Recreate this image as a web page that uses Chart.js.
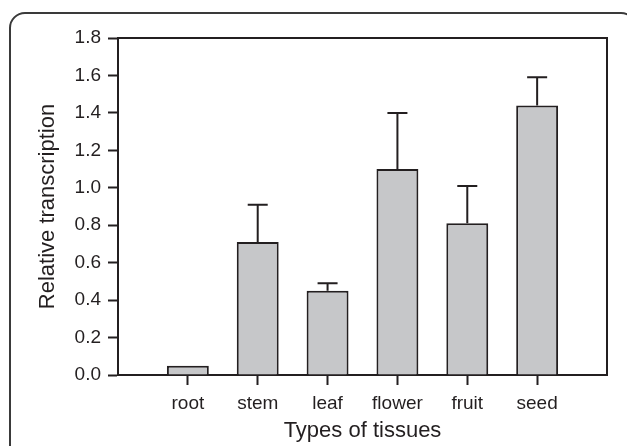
<!DOCTYPE html>
<html>
<head>
<meta charset="utf-8">
<script src="https://cdn.jsdelivr.net/npm/chart.js@4"></script>
<style>
  body { margin: 0; background: #fff; overflow: hidden; }
  #frame { position: absolute; left: 9px; top: 12px; width: 628px; height: 500px;
           border: 2px solid #3a3a3a; border-radius: 16px; box-sizing: border-box; }
  #tissue_chart { position: absolute; left: 0; top: 0; }
</style>
</head>
<body>
<div id="frame"></div>
<canvas id="tissue_chart" width="627" height="446"></canvas>
<script>
const tissues = ['root', 'stem', 'leaf', 'flower', 'fruit', 'seed']
const transcription = [0.05, 0.71, 0.45, 1.10, 0.81, 1.44]
const errors = [0, 0.20, 0.04, 0.30, 0.20, 0.15]
const y_min = 0
const y_max = 1.8
const y_step = 0.2

const ink = '#231f20'
const font_family = 'Liberation Sans, Arial, sans-serif'

// blank slot at each end so the bars sit one category in from the frame
const x_labels = [''].concat(tissues, [''])
const x_values = [null].concat(transcription, [null])
const x_errors = [null].concat(errors, [null])

// upper error bars + top/right frame lines
const errorbar_plugin = {
    id: 'errorbars',
    afterDatasetsDraw(chart) {
        const ctx = chart.ctx
        const y = chart.scales.y
        const meta = chart.getDatasetMeta(0)
        ctx.save()
        ctx.strokeStyle = ink
        ctx.lineWidth = 2
        meta.data.forEach((bar, i) => {
            const err = x_errors[i]
            if (!err) return
            const top = y.getPixelForValue(x_values[i] + err)
            ctx.beginPath()
            ctx.moveTo(bar.x, bar.y)
            ctx.lineTo(bar.x, top)
            ctx.moveTo(bar.x - 10, top)
            ctx.lineTo(bar.x + 10, top)
            ctx.stroke()
        })
        const a = chart.chartArea
        ctx.beginPath()
        ctx.moveTo(a.left, a.top)
        ctx.lineTo(a.right, a.top)
        ctx.lineTo(a.right, a.bottom)
        ctx.stroke()
        ctx.restore()
    }
}

let tissue_document = document.getElementById('tissue_chart').getContext('2d')

let tissue_chart = new Chart(tissue_document, {
    type: 'bar',
    data: {
        labels: x_labels,
        datasets: [{
            label: 'Relative transcription',
            data: x_values,
            backgroundColor: '#c6c7c9',
            borderColor: ink,
            borderWidth: 2,
            categoryPercentage: 1,
            barPercentage: 0.6
        }]
    },
    options: {
        responsive: false,
        animation: false,
        devicePixelRatio: 1,
        layout: {padding: {left: 24, top: 38, right: 20, bottom: 0}},
        plugins: {legend: {display: false}, tooltip: {enabled: false}},
        scales: {
            x: {
                offset: false,
                afterFit: function (scale) { scale.height = 71 },
                grid: {
                    display: true,
                    offset: false,
                    drawOnChartArea: false,
                    drawTicks: true,
                    tickLength: 10,
                    tickWidth: 2,
                    tickColor: function (c) {
                        return (c.index === 0 || c.index === x_labels.length - 1) ? 'rgba(0,0,0,0)' : ink
                    }
                },
                border: {display: true, color: ink, width: 2},
                ticks: {
                    color: ink, padding: 7, maxRotation: 0, autoSkip: false,
                    font: {family: font_family, size: 19}
                },
                title: {
                    display: true, text: 'Types of tissues', color: ink,
                    padding: {top: 2, bottom: 2},
                    font: {family: font_family, size: 22}
                }
            },
            y: {
                min: y_min,
                max: y_max,
                afterFit: function (scale) { scale.width = 94 },
                grid: {
                    display: true,
                    drawOnChartArea: false,
                    drawTicks: true,
                    tickLength: 10,
                    tickWidth: 2,
                    tickColor: ink
                },
                border: {display: true, color: ink, width: 2},
                ticks: {
                    stepSize: y_step, color: ink, padding: 7,
                    font: {family: font_family, size: 19},
                    callback: function (value) { return value.toFixed(1) }
                },
                title: {
                    display: true, text: 'Relative transcription', color: ink,
                    padding: {top: 11, bottom: 11},
                    font: {family: font_family, size: 22}
                }
            }
        }
    },
    plugins: [errorbar_plugin]
})
</script>
</body>
</html>
